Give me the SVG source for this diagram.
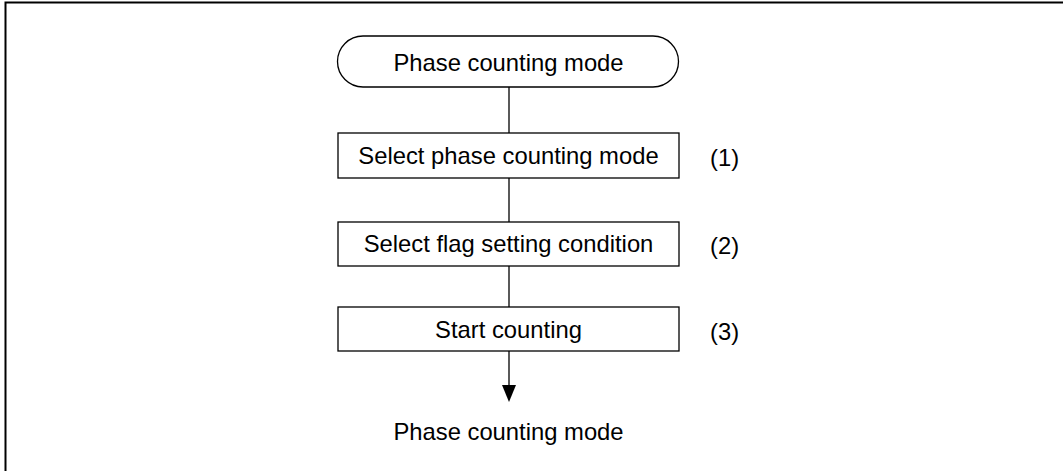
<svg xmlns="http://www.w3.org/2000/svg" width="1063" height="471" viewBox="0 0 1063 471">
<style>
  .shape { fill: #ffffff; stroke: #000000; stroke-width: 1.3; }
  .conn { stroke: #000000; stroke-width: 1.3; fill: none; }
  .t { font-family: "Liberation Sans", Arial, sans-serif; font-size: 23.8px; fill: #000000; }
  .c { text-anchor: middle; }
  .frame { fill: none; stroke: #000000; stroke-width: 2; }
</style>
<rect width="1063" height="471" fill="#ffffff"/>
<rect class="frame" x="5.5" y="2.5" width="1070" height="480"/>
<g id="connectors">
  <line class="conn" x1="509" y1="87" x2="509" y2="133"/>
  <line class="conn" x1="509" y1="178" x2="509" y2="222"/>
  <line class="conn" x1="509" y1="266" x2="509" y2="307"/>
  <line class="conn" x1="509" y1="351" x2="509" y2="388"/>
  <path d="M502,385 L516,385 L509,402 Z" fill="#000000"/>
</g>
<g id="start">
  <rect class="shape" x="337.5" y="36" width="341" height="51" rx="25.5" ry="25.5"/>
  <text class="t c" x="508.5" y="71">Phase counting mode</text>
</g>
<g id="step1">
  <rect class="shape" x="338" y="133" width="341" height="45"/>
  <text class="t c" x="508.5" y="164">Select phase counting mode</text>
  <text class="t" x="710" y="166">(1)</text>
</g>
<g id="step2">
  <rect class="shape" x="338" y="222" width="341" height="44"/>
  <text class="t c" x="508.5" y="252">Select flag setting condition</text>
  <text class="t" x="710" y="254">(2)</text>
</g>
<g id="step3">
  <rect class="shape" x="338" y="307" width="341" height="44"/>
  <text class="t c" x="508.5" y="338">Start counting</text>
  <text class="t" x="710" y="340">(3)</text>
</g>
<g id="end">
  <text class="t c" x="508.5" y="440">Phase counting mode</text>
</g>
</svg>
